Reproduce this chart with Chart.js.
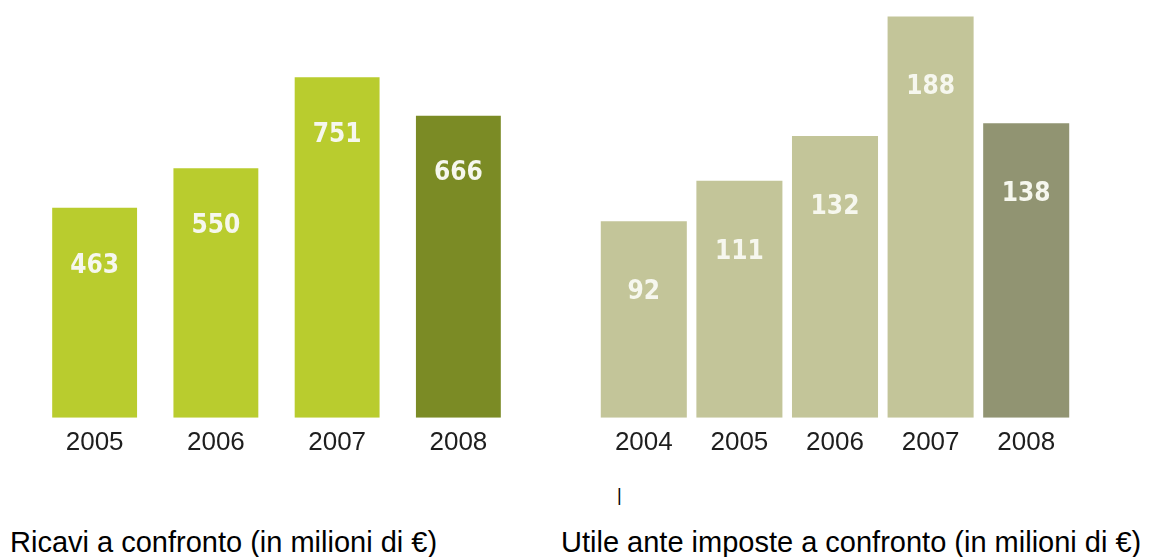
<!DOCTYPE html>
<html lang="it">
<head>
    <meta charset="UTF-8">
    <title>Ricavi e utile ante imposte a confronto</title>
    <script src="https://cdn.jsdelivr.net/npm/chart.js"></script>
    <style>
        body { margin: 0; background: #fff; width: 1152px; height: 557px; overflow: hidden; position: relative; }
        canvas { position: absolute; top: 0; }
        #ricaviChart { left: 0; }
        #utileChart { left: 576px; }
        .caption { position: absolute; top: 525px; font: 29px/34px "Liberation Sans", Arial, sans-serif; color: #000; white-space: nowrap; }
        #mark { position: absolute; left: 617px; top: 486px; font: 18px/18px "Liberation Sans", Arial, sans-serif; color: #000; }
    </style>
</head>
<body>
    <canvas id="ricaviChart" width="576" height="470"></canvas>
    <canvas id="utileChart" width="576" height="470"></canvas>

    <div class="caption" style="left: 10px;">Ricavi a confronto (in milioni di €)</div>
    <div id="mark">|</div>
    <div class="caption" style="left: 561px;">Utile ante imposte a confronto (in milioni di €)</div>

    <script>
        // Dati: ricavi (milioni di euro)
        const anniRicavi = ['2005', '2006', '2007', '2008'];
        const ricavi = [463, 550, 751, 666];

        // Dati: utile ante imposte (milioni di euro)
        const anniUtile = ['2004', '2005', '2006', '2007', '2008'];
        const utile = [92, 111, 132, 188, 138];

        // Etichette bianche dentro le barre
        const valueLabels = {
            id: 'valueLabels',
            afterDatasetsDraw(chart, args, opts) {
                const ctx = chart.ctx;
                const meta = chart.getDatasetMeta(0);
                ctx.save();
                ctx.fillStyle = '#f6f7ee';
                ctx.font = 'bold 26px "DejaVu Sans Condensed", "DejaVu Sans", sans-serif';
                ctx.textAlign = 'center';
                ctx.textBaseline = 'middle';
                meta.data.forEach((bar, i) => {
                    const v = chart.data.datasets[0].data[i];
                    ctx.fillText(String(v), bar.x, bar.y + opts.offset);
                });
                ctx.restore();
            }
        };

        function makeChart(id, labels, values, colors, yMax, barPct, padLeft, padRight, offset) {
            return new Chart(document.getElementById(id), {
                type: 'bar',
                data: {
                    labels: labels,
                    datasets: [{
                        data: values,
                        backgroundColor: colors,
                        borderWidth: 0,
                        barPercentage: barPct,
                        categoryPercentage: 1
                    }]
                },
                options: {
                    responsive: false,
                    animation: false,
                    layout: { padding: { left: padLeft, right: padRight, top: 10, bottom: 3 } },
                    plugins: {
                        legend: { display: false },
                        tooltip: { enabled: false },
                        valueLabels: { offset: offset }
                    },
                    scales: {
                        x: {
                            grid: { display: false, drawTicks: false, tickLength: 0 },
                            border: { display: false },
                            ticks: {
                                padding: 9,
                                color: '#1e1e1e',
                                font: { family: '"Liberation Sans Narrow", "Liberation Sans", sans-serif', size: 26 }
                            }
                        },
                        y: { display: false, min: 0, max: yMax }
                    }
                },
                plugins: [valueLabels]
            });
        }

        makeChart('ricaviChart', anniRicavi, ricavi,
            ['#b9cc2e', '#b9cc2e', '#b9cc2e', '#7b8b25'],
            899, 0.7, 34, 57, 58);

        makeChart('utileChart', anniUtile, utile,
            ['#c3c599', '#c3c599', '#c3c599', '#c3c599', '#919472'],
            191, 0.9, 20, 78, 71);
    </script>
</body>
</html>
